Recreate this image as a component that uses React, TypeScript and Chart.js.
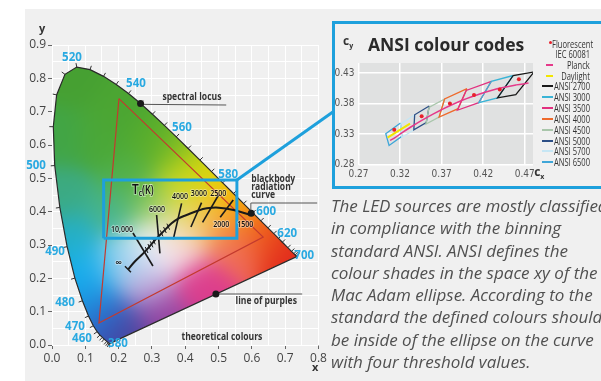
import React, { useEffect, useRef } from "react";
import { Chart, registerables } from "chart.js";
Chart.register(...registerables);

// ---------- Main diagram data ----------
const locusNm = [380, 400, 420, 430, 440, 450, 455, 460, 465, 470, 475, 480, 485, 490, 495, 500, 505, 510, 515, 520, 525, 530, 535, 540, 545, 550, 555, 560, 565, 570, 575, 580, 585, 590, 595, 600, 605, 610, 615, 620, 630, 640, 650, 660, 680, 700];
const locusX = [0.1741, 0.1733, 0.1714, 0.1689, 0.1644, 0.1566, 0.151, 0.144, 0.1355, 0.1241, 0.1096, 0.0913, 0.0687, 0.0454, 0.0235, 0.0082, 0.0039, 0.0139, 0.0389, 0.0743, 0.1142, 0.1547, 0.1929, 0.2296, 0.2658, 0.3016, 0.3373, 0.3731, 0.4087, 0.4441, 0.4788, 0.5125, 0.5448, 0.5752, 0.6029, 0.627, 0.6482, 0.6658, 0.6801, 0.6915, 0.7079, 0.719, 0.726, 0.73, 0.7334, 0.7347];
const locusY = [0.005, 0.0048, 0.0051, 0.0069, 0.0109, 0.0177, 0.0227, 0.0297, 0.0399, 0.0578, 0.0868, 0.1327, 0.2007, 0.295, 0.4127, 0.5384, 0.6548, 0.7502, 0.812, 0.8338, 0.8262, 0.8059, 0.7816, 0.7543, 0.7243, 0.6923, 0.6589, 0.6245, 0.5896, 0.5547, 0.5202, 0.4866, 0.4544, 0.4242, 0.3965, 0.3725, 0.3514, 0.334, 0.3197, 0.3083, 0.292, 0.2809, 0.274, 0.27, 0.2666, 0.2653];

const triangleX = [0.201, 0.634, 0.141, 0.201];
const triangleY = [0.739, 0.324, 0.066, 0.739];

const planckX = [0.229, 0.25, 0.274, 0.295, 0.314, 0.337, 0.359, 0.38, 0.404, 0.435, 0.465, 0.5, 0.545, 0.595];
const planckY = [0.227, 0.252, 0.275, 0.298, 0.32, 0.343, 0.365, 0.38, 0.39, 0.402, 0.41, 0.412, 0.405, 0.39];

// isotemperature lines (10000, 6000, 4000, 3000, 2500, 2000 K) and small ticks
const isoX1 = [0.243, 0.314, 0.389, 0.449, 0.5, 0.544, 0.28, 0.288, 0.295, 0.302, 0.325, 0.335, 0.345, 0.219];
const isoY1 = [0.336, 0.39, 0.425, 0.427, 0.45, 0.435, 0.294, 0.303, 0.311, 0.32, 0.344, 0.354, 0.364, 0.236];
const isoX2 = [0.303, 0.324, 0.364, 0.417, 0.452, 0.505, 0.288, 0.296, 0.303, 0.31, 0.333, 0.343, 0.353, 0.237];
const isoY2 = [0.237, 0.275, 0.317, 0.354, 0.368, 0.383, 0.276, 0.285, 0.293, 0.302, 0.326, 0.336, 0.346, 0.218];
const isoWidths = [1.6, 1.6, 1.6, 1.6, 1.6, 1.6, 1, 1, 1, 1, 1, 1, 1, 1.4];

const rectX = [0.155, 0.555, 0.555, 0.155, 0.155];
const rectY = [0.32, 0.32, 0.495, 0.495, 0.32];
const connX = [0.555, 0.844];
const connY = [0.495, 0.70];

const dotX = [0.2658, 0.598, 0.492];
const dotY = [0.7243, 0.395, 0.153];
const leadLocusX = [0.2658, 0.523];
const leadLocusY = [0.722, 0.72];
const leadBbX = [0.597, 0.597, 0.796];
const leadBbY = [0.395, 0.426, 0.426];
const leadPurX = [0.492, 0.751];
const leadPurY = [0.153, 0.153];

const wlText = ["520", "540", "560", "580", "600", "620", "700", "500", "490", "480", "470", "460", "380"];
const wlTextX = [0.06, 0.252, 0.39, 0.529, 0.643, 0.706, 0.757, -0.048, 0.009, 0.039, 0.069, 0.09, 0.198];
const wlTextY = [0.862, 0.784, 0.652, 0.511, 0.4, 0.333, 0.267, 0.538, 0.279, 0.126, 0.054, 0.018, 0.003];

const tempText = ["10,000", "6000", "4000", "3000", "2500", "2000", "1500", "\u221e"];
const tempX = [0.21, 0.315, 0.384, 0.441, 0.499, 0.508, 0.58, 0.201];
const tempY = [0.348, 0.408, 0.447, 0.456, 0.456, 0.363, 0.363, 0.246];

const noteText = ["spectral locus", "blackbody", "radiation", "curve", "line of purples", "theoretical colours"];
const noteX = [0.42, 0.598, 0.598, 0.598, 0.643, 0.51];
const noteY = [0.745, 0.498, 0.474, 0.45, 0.132, 0.024];
const noteAlign = ["center", "left", "left", "left", "center", "center"];

const mainXTicks = [0, 0.05, 0.1, 0.15, 0.2, 0.25, 0.3, 0.35, 0.4, 0.45, 0.5, 0.55, 0.6, 0.65, 0.7, 0.75, 0.8];
const mainYTicks = [0, 0.05, 0.1, 0.15, 0.2, 0.25, 0.3, 0.35, 0.4, 0.45, 0.5, 0.55, 0.6, 0.65, 0.7, 0.75, 0.8, 0.85, 0.9];

// colour anchors (x, y, rgb)
const anchorX = [0.07, 0.2, 0.15, 0.03, 0.3, 0.38, 0.45, 0.52, 0.58, 0.65, 0.72, 0.55, 0.45, 0.33, 0.22, 0.16, 0.12, 0.1, 0.06, 0.03, 0.32, 0.26, 0.38, 0.4, 0.3, 0.18, 0.2, 0.48, 0.28, 0.23, 0.4];
const anchorY = [0.8, 0.72, 0.62, 0.62, 0.62, 0.58, 0.52, 0.46, 0.4, 0.33, 0.27, 0.3, 0.18, 0.08, 0.04, 0.08, 0.14, 0.22, 0.32, 0.45, 0.31, 0.26, 0.3, 0.38, 0.42, 0.4, 0.25, 0.38, 0.18, 0.5, 0.47];
const anchorRGB = [
  [70, 160, 50], [75, 165, 50], [75, 168, 55], [65, 165, 70], [85, 172, 45], [130, 190, 35], [220, 218, 10], [245, 200, 0],
  [245, 140, 10], [235, 80, 25], [225, 40, 30], [240, 110, 90], [220, 60, 140], [150, 65, 160], [70, 65, 155], [45, 100, 200],
  [25, 155, 228], [18, 175, 240], [35, 175, 200], [60, 170, 130], [250, 248, 250], [215, 235, 250], [245, 210, 225], [240, 225, 110],
  [140, 200, 90], [70, 180, 140], [120, 200, 235], [245, 175, 80], [190, 160, 215], [80, 175, 70], [205, 218, 35],
];

// ---------- Inset data ----------
const ansiNames = ["ANSI 2700", "ANSI 3000", "ANSI 3500", "ANSI 4000", "ANSI 4500", "ANSI 5000", "ANSI 5700", "ANSI 6500"];
const ansiColors = ["#1a1a1a", "#3ab4d6", "#e2307f", "#ee6a2c", "#a9c6ab", "#2d4f86", "#c6e6f4", "#3fa6d8"];
const ansiQuadX = [
  [0.4813, 0.4562, 0.4373, 0.4593, 0.4813],
  [0.4562, 0.4299, 0.4147, 0.4373, 0.4562],
  [0.4299, 0.3996, 0.3889, 0.4147, 0.4299],
  [0.4006, 0.3736, 0.367, 0.3898, 0.4006],
  [0.3736, 0.3548, 0.3512, 0.367, 0.3736],
  [0.3551, 0.3376, 0.3366, 0.3515, 0.3551],
  [0.3376, 0.3207, 0.3222, 0.3366, 0.3376],
  [0.3205, 0.3028, 0.3068, 0.3221, 0.3205],
];
const ansiQuadY = [
  [0.4319, 0.426, 0.3893, 0.3944, 0.4319],
  [0.426, 0.4165, 0.3814, 0.3893, 0.426],
  [0.4165, 0.4015, 0.369, 0.3814, 0.4165],
  [0.4044, 0.3874, 0.3578, 0.3716, 0.4044],
  [0.3874, 0.3736, 0.3465, 0.3578, 0.3874],
  [0.376, 0.3616, 0.3369, 0.3487, 0.376],
  [0.3616, 0.3462, 0.3243, 0.3369, 0.3616],
  [0.3481, 0.3304, 0.3113, 0.3261, 0.3481],
];
const fluorX = [0.313, 0.346, 0.38, 0.409, 0.44, 0.463];
const fluorY = [0.337, 0.359, 0.38, 0.394, 0.403, 0.42];
const planckInsetX = [0.308, 0.3135, 0.3221, 0.3325, 0.3451, 0.3608, 0.3805, 0.4053, 0.4369, 0.4599, 0.4746];
const planckInsetY = [0.3196, 0.3236, 0.3318, 0.3411, 0.3516, 0.3635, 0.3768, 0.3907, 0.4041, 0.4106, 0.4135];
const daylightX = [0.305, 0.318, 0.332];
const daylightY = [0.324, 0.335, 0.347];
const insetXTicks = [0.27, 0.32, 0.37, 0.42, 0.47];
const insetYTicks = [0.28, 0.33, 0.38, 0.43];

const paragraph = [
  "The LED sources are mostly classified",
  "in compliance with the binning",
  "standard ANSI. ANSI defines the",
  "colour shades in the space xy of the",
  "Mac Adam ellipse. According to the",
  "standard the defined colours should",
  "be inside of the ellipse on the curve",
  "with four threshold values.",
];

const BLUE = "#1ea0dc";
const LABEL_BLUE = "#29a9e1";
const COND = '"Liberation Sans Narrow", "DejaVu Sans Condensed", "Roboto Condensed", Roboto, sans-serif';
const SANS = '"Open Sans", "Noto Sans", sans-serif';

const pts = (xs: number[], ys: number[]) => xs.map((x, i) => ({ x, y: ys[i] }));
const lineDs = (data: any[], color: string, width: number, extra: any = {}) => ({
  data, showLine: true, borderColor: color, backgroundColor: color, borderWidth: width,
  pointRadius: 0, pointHoverRadius: 0, fill: false, tension: 0, ...extra,
});

function anchorColor(x: number, y: number): [number, number, number] {
  let r = 0, g = 0, b = 0, ws = 0;
  for (let i = 0; i < anchorX.length; i++) {
    const dx = x - anchorX[i], dy = y - anchorY[i];
    const w = Math.exp(-(dx * dx + dy * dy) / 0.006) + 1e-9;
    r += w * anchorRGB[i][0]; g += w * anchorRGB[i][1]; b += w * anchorRGB[i][2]; ws += w;
  }
  return [r / ws, g / ws, b / ws];
}

// condensed text helper (squeezes the natural width)
function condText(ctx: CanvasRenderingContext2D, t: string, x: number, y: number, squeeze: number, stroke = false) {
  const w = ctx.measureText(t).width * squeeze;
  if (stroke) ctx.strokeText(t, x, y, w);
  ctx.fillText(t, x, y, w);
  return w;
}

const fillPlugin = {
  id: "cieFill",
  beforeDatasetsDraw(chart: any) {
    const { ctx, scales } = chart;
    const sx = scales.x, sy = scales.y;
    const px = locusX.map((v) => sx.getPixelForValue(v));
    const py = locusY.map((v) => sy.getPixelForValue(v));
    const minX = Math.floor(Math.min(...px)) - 1, maxX = Math.ceil(Math.max(...px)) + 1;
    const minY = Math.floor(Math.min(...py)) - 1, maxY = Math.ceil(Math.max(...py)) + 1;
    const w = maxX - minX, h = maxY - minY;
    const off = document.createElement("canvas");
    off.width = w; off.height = h;
    const octx = off.getContext("2d")!;
    const img = octx.createImageData(w, h);
    for (let j = 0; j < h; j++) {
      const yv = sy.getValueForPixel(minY + j + 0.5);
      for (let i = 0; i < w; i++) {
        const xv = sx.getValueForPixel(minX + i + 0.5);
        const c = anchorColor(xv, yv);
        const k = (j * w + i) * 4;
        img.data[k] = c[0]; img.data[k + 1] = c[1]; img.data[k + 2] = c[2]; img.data[k + 3] = 255;
      }
    }
    octx.putImageData(img, 0, 0);
    ctx.save();
    ctx.beginPath();
    px.forEach((p, i) => (i ? ctx.lineTo(p, py[i]) : ctx.moveTo(p, py[i])));
    ctx.closePath();
    ctx.clip();
    ctx.drawImage(off, minX, minY);
    ctx.restore();
    // wavelength ticks along the locus
    ctx.save();
    ctx.strokeStyle = "#333";
    ctx.lineWidth = 1;
    const cx = sx.getPixelForValue(0.33), cy = sy.getPixelForValue(0.33);
    for (let i = 1; i < px.length - 1; i++) {
      const tx = px[i + 1] - px[i - 1], ty = py[i + 1] - py[i - 1];
      const len = Math.hypot(tx, ty) || 1;
      let nx = -ty / len, ny = tx / len;
      if (nx * (px[i] - cx) + ny * (py[i] - cy) < 0) { nx = -nx; ny = -ny; }
      ctx.beginPath();
      ctx.moveTo(px[i], py[i]);
      ctx.lineTo(px[i] + nx * 4, py[i] + ny * 4);
      ctx.stroke();
    }
    ctx.restore();
  },
};

const mainTextPlugin = {
  id: "mainText",
  afterDatasetsDraw(chart: any) {
    const { ctx, scales } = chart;
    const sx = scales.x, sy = scales.y;
    const X = (v: number) => sx.getPixelForValue(v);
    const Y = (v: number) => sy.getPixelForValue(v);
    ctx.save();
    ctx.textBaseline = "middle";
    // wavelength labels
    ctx.font = `bold 11.5px ${SANS}`;
    ctx.fillStyle = LABEL_BLUE;
    ctx.textAlign = "center";
    wlText.forEach((t, i) => ctx.fillText(t, X(wlTextX[i]), Y(wlTextY[i])));
    // temperature labels
    ctx.font = `600 9.5px ${SANS}`;
    ctx.lineWidth = 2;
    ctx.strokeStyle = "rgba(255,255,255,0.4)";
    ctx.fillStyle = "#111";
    tempText.forEach((t, i) => {
      condText(ctx, t, X(tempX[i]), Y(tempY[i]), i === 7 ? 1 : 0.74, true);
    });
    // Tc(K)
    ctx.textAlign = "left";
    let tx = X(0.24);
    const ty = Y(0.465);
    ctx.font = `600 14px ${SANS}`;
    tx += condText(ctx, "T", tx, ty, 0.85, true);
    ctx.font = `600 8px ${SANS}`;
    tx += condText(ctx, "c", tx, ty + 4, 0.85, true);
    ctx.font = `600 12.5px ${SANS}`;
    condText(ctx, "(K)", tx, ty, 0.72, true);
    // notes
    ctx.font = `bold 11px ${SANS}`;
    ctx.fillStyle = "#333";
    noteText.forEach((t, i) => {
      ctx.textAlign = noteAlign[i] as CanvasTextAlign;
      condText(ctx, t, X(noteX[i]), Y(noteY[i]), 0.78);
    });
    // axis titles
    ctx.font = `bold 11px ${SANS}`;
    ctx.fillStyle = "#333";
    ctx.textAlign = "center";
    ctx.fillText("y", X(-0.03), Y(0.949));
    ctx.fillText("x", X(0.79), Y(-0.069));
    ctx.restore();
  },
};

const insetPlugin = {
  id: "insetDeco",
  beforeDraw(chart: any) {
    const { ctx, chartArea: a } = chart;
    ctx.save();
    ctx.fillStyle = "#e0e1e1";
    ctx.fillRect(a.left, a.top, a.right - a.left, a.bottom - a.top);
    ctx.restore();
  },
  afterDraw(chart: any) {
    const { ctx, scales } = chart;
    const sx = scales.x, sy = scales.y;
    ctx.save();
    ctx.fillStyle = "#333";
    ctx.textBaseline = "middle";
    ctx.textAlign = "left";
    const drawC = (x: number, y: number, sub: string) => {
      const px = sx.getPixelForValue(x), py = sy.getPixelForValue(y);
      ctx.font = `bold 12px ${SANS}`;
      ctx.fillText("c", px, py);
      const w = ctx.measureText("c").width;
      ctx.font = `bold 7px ${SANS}`;
      ctx.fillText(sub, px + w, py + 4);
    };
    drawC(0.2513, 0.481, "y");
    drawC(0.4814, 0.2668, "x");
    ctx.restore();
  },
};

function mainConfig(): any {
  const datasets: any[] = [];
  datasets.push(lineDs(pts(rectX, rectY), BLUE, 3, { borderJoinStyle: "miter" }));
  datasets.push(lineDs(pts(connX, connY), BLUE, 3, { clip: false }));
  datasets.push({ data: pts(dotX, dotY), showLine: false, pointRadius: 3.5, pointHoverRadius: 3.5, backgroundColor: "#1a1a1a", borderWidth: 0 });
  datasets.push(lineDs(pts(leadLocusX, leadLocusY), "#555", 1));
  datasets.push(lineDs(pts(leadBbX, leadBbY), "#555", 1, { clip: false }));
  datasets.push(lineDs(pts(leadPurX, leadPurY), "#555", 1));
  datasets.push(lineDs(pts(planckX, planckY), "#1a1a1a", 2, { tension: 0.4 }));
  isoX1.forEach((_, i) => {
    datasets.push(lineDs(pts([isoX1[i], isoX2[i]], [isoY1[i], isoY2[i]]), "#1a1a1a", isoWidths[i]));
  });
  datasets.push(lineDs(pts(triangleX, triangleY), "#c33a2e", 1.2));
  datasets.push(lineDs(pts([...locusX, locusX[0]], [...locusY, locusY[0]]), "#2a2a2a", 1.2));

  const isMajor = (v: number) => Math.round(v * 100) % 10 === 0;
  return {
    type: "scatter",
    data: { datasets },
    plugins: [fillPlugin, mainTextPlugin],
    options: {
      animation: false,
      responsive: false,
      maintainAspectRatio: false,
      events: [],
      layout: { padding: { left: 0, right: 601 - 318.5, top: 45, bottom: 0 } },
      plugins: { legend: { display: false }, tooltip: { enabled: false } },
      scales: {
        x: {
          type: "linear", min: 0, max: 0.8,
          afterBuildTicks: (s: any) => { s.ticks = mainXTicks.map((v) => ({ value: v })); },
          afterFit: (s: any) => { s.height = 36; },
          border: { display: false },
          grid: { color: "#ffffff", lineWidth: 1, tickLength: 4, tickColor: (c: any) => (c.tick && isMajor(c.tick.value) ? "#666" : "rgba(0,0,0,0)") },
          ticks: { autoSkip: false, maxRotation: 0, padding: 2, color: "#444", font: { family: SANS, size: 12 }, callback: (v: any) => (isMajor(v) ? Number(v).toFixed(1) : "") },
        },
        y: {
          type: "linear", min: 0, max: 0.9,
          afterBuildTicks: (s: any) => { s.ticks = mainYTicks.map((v) => ({ value: v })); },
          afterFit: (s: any) => { s.width = 52; },
          border: { display: false },
          grid: { color: "#ffffff", lineWidth: 1, tickLength: 4, tickColor: (c: any) => (c.tick && isMajor(c.tick.value) ? "#666" : "rgba(0,0,0,0)") },
          ticks: { autoSkip: false, padding: 2, color: "#444", font: { family: SANS, size: 12 }, callback: (v: any) => (isMajor(v) ? Number(v).toFixed(1) : "") },
        },
      },
    },
  };
}

function insetConfig(): any {
  const datasets: any[] = [];
  datasets.push({ data: pts(fluorX, fluorY), showLine: false, pointRadius: 2, pointHoverRadius: 2, backgroundColor: "#e8202a", borderWidth: 0 });
  datasets.push(lineDs(pts(planckInsetX, planckInsetY), "#e5398a", 1.5, { tension: 0.3 }));
  datasets.push(lineDs(pts(daylightX, daylightY), "#f2e600", 2));
  ansiNames.forEach((_, i) => {
    datasets.push(lineDs(pts(ansiQuadX[i], ansiQuadY[i]), ansiColors[i], 1.3));
  });
  return {
    type: "scatter",
    data: { datasets },
    plugins: [insetPlugin],
    options: {
      animation: false,
      responsive: false,
      maintainAspectRatio: false,
      events: [],
      layout: { padding: { left: 358.5 - 30, right: 601 - 533, top: 63, bottom: 381 - 164.5 - 20 } },
      plugins: { legend: { display: false }, tooltip: { enabled: false } },
      scales: {
        x: {
          type: "linear", min: 0.27, max: 0.48,
          afterBuildTicks: (s: any) => { s.ticks = insetXTicks.map((v) => ({ value: v })); },
          afterFit: (s: any) => { s.height = 20; },
          border: { display: false },
          grid: { color: "#ffffff", lineWidth: 1.5, drawTicks: false },
          ticks: { autoSkip: false, maxRotation: 0, padding: 4, color: "#555", font: { family: COND, size: 10 }, callback: (v: any) => Number(v).toFixed(2) },
        },
        y: {
          type: "linear", min: 0.28, max: 0.4465,
          afterBuildTicks: (s: any) => { s.ticks = insetYTicks.map((v) => ({ value: v })); },
          afterFit: (s: any) => { s.width = 30; },
          border: { display: false },
          grid: { color: "#ffffff", lineWidth: 1.5, drawTicks: false },
          ticks: { autoSkip: false, padding: 4, color: "#555", font: { family: COND, size: 10 }, callback: (v: any) => Number(v).toFixed(2) },
        },
      },
    },
  };
}

const legendRows = [
  { kind: "dot", text: "Fluorescent", color: "#e8202a" },
  { kind: "none", text: "IEC 60081", color: "" },
  { kind: "short", text: "Planck", color: "#e5398a" },
  { kind: "short", text: "Daylight", color: "#f2e600" },
  ...ansiNames.map((n, i) => ({ kind: "long", text: n, color: ansiColors[i] })),
];
const legendRowY = [44, 54, 65, 76, 86, 97, 108, 119, 130, 141, 151, 162];

export default function App() {
  const mainRef = useRef<HTMLCanvasElement>(null);
  const insetRef = useRef<HTMLCanvasElement>(null);
  useEffect(() => {
    const c1 = new Chart(mainRef.current!, mainConfig());
    const c2 = new Chart(insetRef.current!, insetConfig());
    return () => { c1.destroy(); c2.destroy(); };
  }, []);
  return (
    <div style={{ position: "absolute", left: 0, top: 0, width: 601, height: 381, overflow: "hidden", background: "#ffffff", fontFamily: SANS }}>
      <div style={{ position: "absolute", left: 25, top: 9, width: 576, height: 372, background: "#f0f0f0" }} />
      <canvas ref={mainRef} width={601} height={381} style={{ position: "absolute", left: 0, top: 0, width: 601, height: 381 }} />
      <div style={{ position: "absolute", left: 332, top: 21, width: 290, height: 168, border: `3px solid ${BLUE}`, boxSizing: "border-box" }} />
      <canvas ref={insetRef} width={601} height={381} style={{ position: "absolute", left: 0, top: 0, width: 601, height: 381 }} />
      <div style={{ position: "absolute", left: 368, top: 32, fontFamily: SANS, fontWeight: 700, fontSize: 17.5, lineHeight: "24px", color: "#2a2a2a", whiteSpace: "nowrap" }}>ANSI colour codes</div>
      {legendRows.map((r, i) => (
        <div key={i} style={{ position: "absolute", top: legendRowY[i] - 7, height: 14, left: 540, width: 50, fontFamily: SANS, fontSize: 10.5, lineHeight: "14px", color: "#333", whiteSpace: "nowrap" }}>
          {r.kind === "dot" && <span style={{ position: "absolute", left: 9, top: 4, width: 3, height: 3, borderRadius: 2, background: r.color }} />}
          {r.kind === "short" && <span style={{ position: "absolute", left: 6, top: 6, width: 7, height: 2, background: r.color }} />}
          {r.kind === "long" && <span style={{ position: "absolute", left: 2, top: 6, width: 11, height: 2, background: r.color }} />}
          {r.kind === "dot" ? (
            <span style={{ position: "absolute", left: 12, top: 0, transform: "scaleX(0.72)", transformOrigin: "left center" }}>{r.text}</span>
          ) : (
            <span style={{ position: "absolute", right: 0, top: 0, transform: "scaleX(0.72)", transformOrigin: "right center" }}>{r.text}</span>
          )}
        </div>
      ))}
      <div style={{ position: "absolute", left: 331, top: 195, fontFamily: SANS, fontStyle: "italic", fontSize: 17, lineHeight: "22.3px", color: "#505050", whiteSpace: "nowrap" }}>
        {paragraph.map((l, i) => (
          <div key={i}>{l}</div>
        ))}
      </div>
    </div>
  );
}
